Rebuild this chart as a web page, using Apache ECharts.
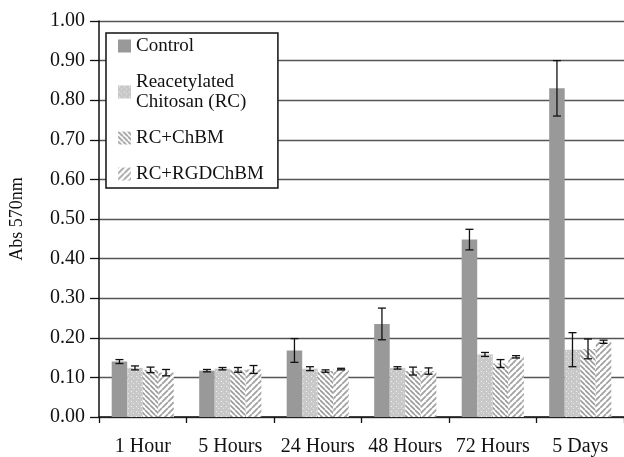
<!DOCTYPE html>
<html>
<head>
<meta charset="utf-8">
<script src="https://cdn.jsdelivr.net/npm/echarts@6/dist/echarts.min.js"></script>
<style>
html,body{margin:0;padding:0;background:#fff;}
#c{width:624px;height:457px;}
</style>
</head>
<body>
<div id="c"></div>
<script>
const categories = ['1 Hour', '5 Hours', '24 Hours', '48 Hours', '72 Hours', '5 Days'];
const seriesNames = ['Control', 'Reacetylated\nChitosan (RC)', 'RC+ChBM', 'RC+RGDChBM'];
const control = [0.140, 0.117, 0.168, 0.235, 0.448, 0.830];
const rc      = [0.124, 0.122, 0.122, 0.124, 0.158, 0.170];
const chbm    = [0.119, 0.119, 0.116, 0.116, 0.135, 0.172];
const rgd     = [0.112, 0.120, 0.121, 0.116, 0.152, 0.190];
const errControl = [0.005, 0.003, 0.030, 0.040, 0.026, 0.070];
const errRc      = [0.005, 0.003, 0.005, 0.003, 0.005, 0.043];
const errChbm    = [0.007, 0.006, 0.003, 0.010, 0.010, 0.025];
const errRgd     = [0.008, 0.010, 0.002, 0.008, 0.003, 0.004];
const yTicks = [0, 0.1, 0.2, 0.3, 0.4, 0.5, 0.6, 0.7, 0.8, 0.9, 1.0];

const FONT = 'Liberation Serif';
const GAP = 0.29;

function pattern(size, draw) {
  const cv = document.createElement('canvas');
  cv.width = size; cv.height = size;
  const ctx = cv.getContext('2d');
  draw(ctx, size);
  return {image: cv, repeat: 'repeat'};
}
const dotPat = pattern(5, (ctx, s) => {
  ctx.fillStyle = '#c8c8c8'; ctx.fillRect(0, 0, s, s);
  ctx.fillStyle = '#f2f2f2'; ctx.fillRect(1, 1, 1, 1);
  ctx.fillStyle = '#e6e6e6'; ctx.fillRect(3, 3, 1, 1);
});
function stripes(size, dir, color, w) {
  return pattern(size, (ctx, s) => {
    ctx.fillStyle = '#ffffff'; ctx.fillRect(0, 0, s, s);
    ctx.strokeStyle = color; ctx.lineWidth = w;
    ctx.beginPath();
    for (let k = -1; k <= 1; k++) {
      if (dir === 'back') { ctx.moveTo(k * s, 0); ctx.lineTo(k * s + s, s); }
      else { ctx.moveTo(k * s, s); ctx.lineTo(k * s + s, 0); }
    }
    ctx.stroke();
  });
}
const backPat = stripes(5, 'back', '#9a9a9a', 1.6);
const fwdPat = stripes(6, 'fwd', '#a2a2a2', 1.8);
const fills = ['#999999', dotPat, backPat, fwdPat];
const values = [control, rc, chbm, rgd];
const errs = [errControl, errRc, errChbm, errRgd];

const barSeries = values.map((vals, s) => ({
  name: seriesNames[s],
  type: 'bar',
  data: vals,
  barGap: '0%',
  barCategoryGap: (GAP * 100) + '%',
  itemStyle: {color: fills[s]},
  emphasis: {disabled: true}
}));

const errSeries = values.map((vals, s) => ({
  type: 'custom',
  z: 10,
  silent: true,
  encode: {x: 0, y: 1},
  data: vals.map((v, i) => [i, v, errs[s][i]]),
  renderItem: function (params, api) {
    const i = api.value(0), v = api.value(1), e = api.value(2);
    const catW = api.size([1, 0])[0];
    const barW = catW * (1 - GAP) / 4;
    const c = api.coord([i, v]);
    const x = c[0] + (s - 1.5) * barW;
    const yt = api.coord([i, v + e])[1];
    const yb = api.coord([i, v - e])[1];
    const cap = 4;
    const st = {stroke: '#111', lineWidth: 1.3};
    return {type: 'group', children: [
      {type: 'line', shape: {x1: x, y1: yt, x2: x, y2: yb}, style: st},
      {type: 'line', shape: {x1: x - cap, y1: yt, x2: x + cap, y2: yt}, style: st},
      {type: 'line', shape: {x1: x - cap, y1: yb, x2: x + cap, y2: yb}, style: st}
    ]};
  }
}));

const chart = echarts.init(document.getElementById('c'), null, {renderer: 'canvas'});
chart.setOption({
  animation: false,
  backgroundColor: '#fff',
  textStyle: {fontFamily: FONT},
  grid: {left: 96, width: 531, top: 21, bottom: 39, containLabel: false},
  legend: {
    data: seriesNames,
    orient: 'vertical',
    left: 106, top: 33,
    padding: [3, 14, 4, 12],
    itemGap: 16,
    itemWidth: 13, itemHeight: 13,
    borderColor: '#111', borderWidth: 1.5,
    backgroundColor: '#fff',
    icon: 'rect',
    textStyle: {fontFamily: FONT, fontSize: 19, color: '#111', lineHeight: 20},
    selectedMode: false
  },
  xAxis: {
    type: 'category',
    data: categories,
    axisLine: {lineStyle: {color: '#111', width: 1.5}},
    axisTick: {show: true, length: 6, lineStyle: {color: '#111', width: 1.3}},
    axisLabel: {fontFamily: FONT, fontSize: 20, color: '#111', margin: 20, interval: 0}
  },
  yAxis: {
    type: 'value',
    min: yTicks[0], max: yTicks[yTicks.length - 1], interval: 0.1,
    name: 'Abs 570nm',
    nameLocation: 'middle',
    nameGap: 73,
    nameTextStyle: {fontFamily: FONT, fontSize: 18, color: '#111'},
    axisLine: {show: true, lineStyle: {color: '#111', width: 1.5}},
    axisTick: {show: true, length: 9, lineStyle: {color: '#111', width: 1.3}},
    axisLabel: {fontFamily: FONT, fontSize: 20, color: '#111', margin: 14,
      formatter: v => v.toFixed(2)},
    splitLine: {show: true, lineStyle: {color: '#555', width: 1.3}}
  },
  series: barSeries.concat(errSeries)
});
</script>
</body>
</html>
